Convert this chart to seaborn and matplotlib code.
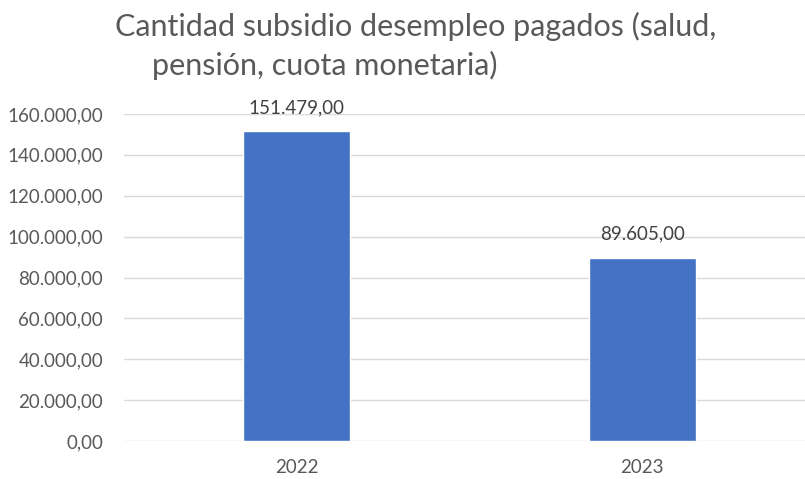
import matplotlib
matplotlib.use("Agg")
import matplotlib.pyplot as plt
import seaborn as sns
import pandas as pd

# chart values
years = ["2022", "2023"]
cantidad = [151479.00, 89605.00]
y_ticks = [0, 20000, 40000, 60000, 80000, 100000, 120000, 140000, 160000]

title_1 = "Cantidad subsidio desempleo pagados (salud,"
title_2 = "pensión, cuota monetaria)"


def fmt_es(v):
    # 151479 -> 151.479,00
    s = f"{v:,.2f}"
    return s.replace(",", "X").replace(".", ",").replace("X", ".")


df = pd.DataFrame({"year": years, "cantidad": cantidad})

sns.set_style("white")
plt.rcParams["font.family"] = ["Lato", "DejaVu Sans"]

fig = plt.figure(figsize=(8.05, 4.79), dpi=100)
ax = fig.add_axes([124 / 805, 38 / 479, 691 / 805, 327 / 479])

sns.barplot(data=df, x="year", y="cantidad", color="#4472C4", width=0.31,
            saturation=1, ax=ax, zorder=3)

ax.set_ylim(0, 160000)
ax.set_yticks(y_ticks)
ax.set_yticklabels([fmt_es(t) for t in y_ticks])
ax.grid(axis="y", color="#d9d9d9", linewidth=1.0, zorder=0)
ax.set_axisbelow(True)
for s in ax.spines.values():
    s.set_visible(False)
ax.set_xlabel("")
ax.set_ylabel("")
ax.tick_params(axis="y", length=0, pad=15, labelsize=13.5, labelcolor="#595959")
ax.tick_params(axis="x", length=0, pad=13, labelsize=13.5, labelcolor="#595959")

ax.bar_label(ax.containers[0], labels=[fmt_es(v) for v in cantidad],
             padding=11, fontsize=13.5, color="#404040")

fig.text(416 / 805, 1 - 36 / 479, title_1, ha="center", va="baseline",
         fontsize=22, color="#595959")
fig.text(152 / 805, 1 - 75 / 479, title_2, ha="left", va="baseline",
         fontsize=22, color="#595959")

fig.savefig("out.png", dpi=100, facecolor="white")
